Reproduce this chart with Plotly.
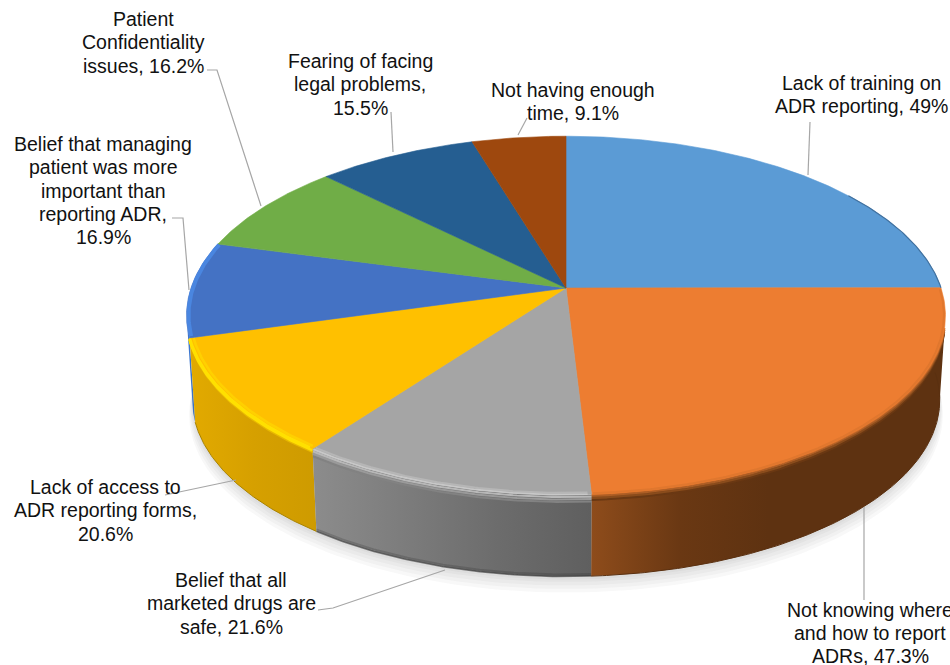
import numpy as np
import plotly.graph_objects as go

# ---- data ----
categories = ["Lack of training on<br>ADR reporting", "Not knowing where<br>and how to report<br>ADRs",
              "Belief that all<br>marketed drugs are<br>safe", "Lack of access to<br>ADR reporting forms,<br>",
              "Belief that managing<br>patient was more<br>important than<br>reporting ADR,<br>",
              "Patient<br>Confidentiality<br>issues", "Fearing of facing<br>legal problems,<br>",
              "Not having enough<br>time"]
values = [49, 47.3, 21.6, 20.6, 16.9, 16.2, 15.5, 9.1]
top_colors = ["#5B9BD5", "#ED7D31", "#A5A5A5", "#FFC000", "#4472C4", "#70AD47", "#255E91", "#9E480E"]

# ---- layout of the labels and leader lines (pixels) ----
label_x = [861, 870, 231, 105, 103, 143, 360, 573]
label_y = [83, 609.5, 580, 487, 144, 19, 61, 90]
LINE_STEP = 23.3
leaders = ["M810,122 L808,175", "M864,507 L864,600", "M318,610 L333,608 L445,570", "M165,495 L236,480",
           "M172,218 L183,218 L189,290", "M207,70 L217,70 L261,206", "M391,112 L393,152", "M527,118 L518,135"]

# ---- perspective model of the disc ----
CX, CY, CY2, R, S, K, F = 566, 288, 373, 375, 175, 0.153, 0.985
SILHOUETTE = np.degrees(np.arccos(-K))


def project(theta_deg, r=1.0, t=0.0):
    th = np.radians(theta_deg)
    w = 1 + K * r * np.cos(th)
    scale = 1 + (F - 1) * t
    cy = CY + (CY2 - CY) * t
    return CX + scale * r * R * np.sin(th) / w, cy - scale * r * S * np.cos(th) / w


def arc(a, b, n=None):
    return np.linspace(a, b, n or max(8, int(abs(b - a) * 2)))


fig = go.Figure()


def poly(x, y, color=None, gradient=None, line=None, lw=0.6):
    kw = dict(fillcolor=color) if color else dict(fillgradient=dict(
        type="horizontal", colorscale=[[i / (len(gradient) - 1), c] for i, c in enumerate(gradient)]))
    fig.add_trace(go.Scatter(x=list(x), y=list(y), mode="lines", fill="toself",
                             line=dict(color=line or "rgba(0,0,0,0)", width=lw if line else 0),
                             hoverinfo="skip", showlegend=False, **kw))


def stroke(x, y, color, width):
    fig.add_trace(go.Scatter(x=list(x), y=list(y), mode="lines", line=dict(color=color, width=width),
                             hoverinfo="skip", showlegend=False))


total = sum(values)
edges = np.concatenate([[0], np.cumsum(values)]) / total * 360

# soft shadow under the disc
all_th = arc(0, 360, 240)
for dy, grow in [(14, 1.008), (11, 1.006), (8, 1.004), (5, 1.002), (3, 1.0)]:
    sx, sy = project(all_th, grow, 1.0)
    poly(sx, sy + dy, color="rgba(60,60,70,0.035)")

# side walls, drawn only where they face the viewer
wall_grad = {1: ["#8E4C1B", "#6A3813", "#5E3211", "#5E3211", "#5E3211"],
             2: ["#8C8C8C", "#7C7C7C", "#6C6C6C", "#5F5F5F"],
             3: ["#E2AA00", "#D6A000", "#CE9B00"],
             4: ["#3E7BD6", "#3A6FC0"]}
for i in [4, 1, 3, 2]:
    a, b = max(edges[i], SILHOUETTE), min(edges[i + 1], 360 - SILHOUETTE)
    th = arc(a, b)
    x0, y0 = project(th, 1, 0)
    x1, y1 = project(th[::-1], 1, 1)
    poly(np.r_[x0, x1], np.r_[y0, y1], gradient=wall_grad[i])

# bottom-edge shading of the walls
for i, rows in {2: [(0.975, "rgba(40,40,40,0.22)", 2), (1, "rgba(40,40,40,0.55)", 1.5)],
                1: [(1, "#5A3010", 1.0)], 3: [(1, "#A98300", 1.0)]}.items():
    for t, c, w in rows:
        x, y = project(arc(edges[i], edges[i + 1]), 1, t)
        stroke(x, y, c, w)

# bevel that falls down the upper part of the wall
wall_bevel = {1: [(.07, "#6A3813", 2), (.045, "#8A4C1C", 2), (.02, "#AD5E25", 2), (0, "#CF6E2B", 2)],
              2: [(.09, "#828282", 2), (.06, "#9A9A9A", 2), (.03, "#B8B8B8", 2), (0, "#C8C8C8", 2)],
              3: [(.04, "#E8B800", 2), (.015, "#FFE000", 3)]}
for i, rows in wall_bevel.items():
    a, b = max(edges[i], SILHOUETTE + 4), min(edges[i + 1], 360 - SILHOUETTE)
    for t, c, w in rows:
        x, y = project(arc(a, b), 1, t)
        stroke(x, y, c, w)

# top faces
for i, c in enumerate(top_colors):
    x, y = project(arc(edges[i], edges[i + 1]))
    poly(np.r_[CX, x, CX], np.r_[CY, y, CY], color=c, line=c)

# bevel along the rim, on the face
bevel = {1: [(0.996, "#E0772E", 2)], 2: [(0.993, "#B6B6B6", 2), (1.0, "#C8C8C8", 1.5)],
         3: [(0.99, "#FFD000", 2.5), (1.0, "#FFE000", 3)], 4: [(0.995, "#4A86E0", 4)]}
for i, rows in bevel.items():
    a, b = edges[i], edges[i + 1]
    for r, c, w in rows:
        x, y = project(arc(a + 0.5, b - 0.2), r)
        stroke(x, y, c, w)

# thin dark edge of the first slice on the right
x, y = project(arc(55, edges[1]))
stroke(x, y, "#41719F", 1.2)

shapes = [dict(type="path", path=p, line=dict(color="#A6A6A6", width=1.2), layer="above") for p in leaders]
notes = []
for i, (c, v) in enumerate(zip(categories, values)):
    sep = "" if c.endswith("<br>") else ", "
    for j, line in enumerate(f"{c}{sep}{v}%".split("<br>")):
        notes.append(dict(x=label_x[i], y=label_y[i] + j * LINE_STEP, text=line, showarrow=False, align="center",
                          xanchor="center", yanchor="middle",
                          font=dict(family="Liberation Sans", size=19.5, color="#111111")))

fig.update_layout(width=950, height=665, margin=dict(l=0, r=0, t=0, b=0), paper_bgcolor="white",
                  plot_bgcolor="white", showlegend=False, shapes=shapes, annotations=notes,
                  xaxis=dict(range=[0, 950], visible=False, fixedrange=True),
                  yaxis=dict(range=[665, 0], visible=False, fixedrange=True))
fig.write_html("out.html", config=dict(displayModeBar=False),
               post_script="document.body.style.margin='0';document.body.style.overflow='hidden';")
